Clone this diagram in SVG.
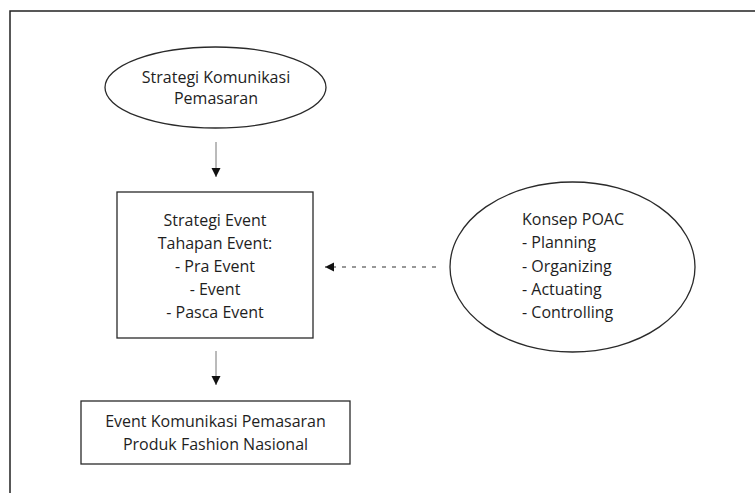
<svg xmlns="http://www.w3.org/2000/svg" width="755" height="493" viewBox="0 0 755 493">
<style>
.shape{fill:#fff;stroke:#2a2a2a;stroke-width:1.3}
.frame{fill:none;stroke:#222;stroke-width:1.5}
text{font-family:"Open Sans","Noto Sans","Liberation Sans",sans-serif;font-size:16px;fill:#1e1e1e}
.c{text-anchor:middle}
.conn{stroke:#777;stroke-width:1;fill:none}
.dash{stroke:#333;stroke-width:1.2;stroke-dasharray:4 6;fill:none}
</style>
<defs>
<marker id="ah" viewBox="0 0 10 10" refX="10" refY="5" markerWidth="9" markerHeight="10" markerUnits="userSpaceOnUse" orient="auto">
<path d="M0,0 L10,5 L0,10 Z" fill="#111"/>
</marker>
</defs>
<rect width="755" height="493" fill="#fff"/>
<path class="frame" d="M10,493 L10,11 L755,11"/>
<g id="strategi-komunikasi">
<ellipse class="shape" cx="215.5" cy="87.5" rx="110.5" ry="40.5"/>
<text class="c" x="216" y="83">Strategi Komunikasi</text>
<text class="c" x="216" y="104">Pemasaran</text>
</g>
<g id="strategi-event">
<rect class="shape" x="117" y="192" width="196" height="146"/>
<text class="c" x="215" y="226">Strategi Event</text>
<text class="c" x="215" y="249">Tahapan Event:</text>
<text class="c" x="215" y="272">- Pra Event</text>
<text class="c" x="215" y="295">- Event</text>
<text class="c" x="215" y="318">- Pasca Event</text>
</g>
<g id="konsep-poac">
<ellipse class="shape" cx="572.5" cy="267" rx="122.5" ry="85"/>
<text x="522" y="225">Konsep POAC</text>
<text x="522" y="248">- Planning</text>
<text x="522" y="272">- Organizing</text>
<text x="522" y="295">- Actuating</text>
<text x="522" y="318">- Controlling</text>
</g>
<g id="event-komunikasi">
<rect class="shape" x="81" y="401" width="269" height="63"/>
<text class="c" x="215.5" y="427">Event Komunikasi Pemasaran</text>
<text class="c" x="215.5" y="450">Produk Fashion Nasional</text>
</g>
<g id="connectors">
<line class="conn" x1="216" y1="142" x2="216" y2="177" marker-end="url(#ah)"/>
<line class="conn" x1="216" y1="351" x2="216" y2="385" marker-end="url(#ah)"/>
<line class="dash" x1="436" y1="267" x2="325" y2="267" marker-end="url(#ah)"/>
</g>
</svg>
